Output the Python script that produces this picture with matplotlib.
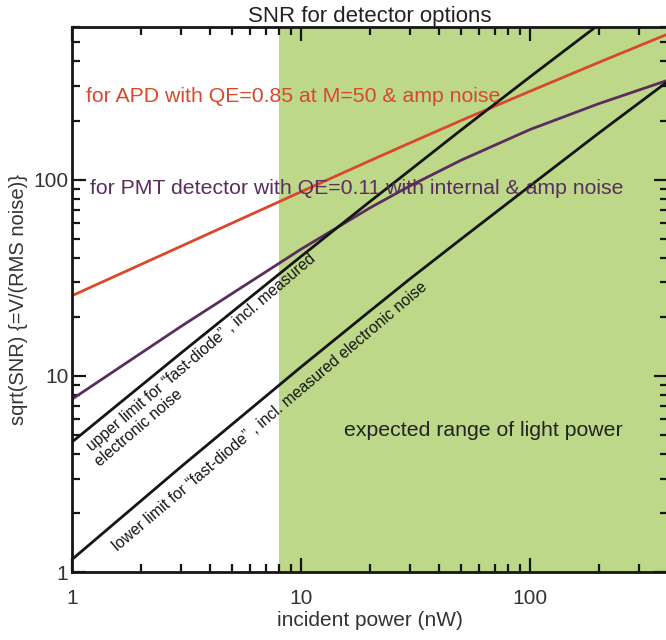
import matplotlib
matplotlib.use("Agg")
import matplotlib.pyplot as plt
from matplotlib.ticker import LogLocator, NullFormatter, FixedLocator, FixedFormatter

plt.rcParams['font.family'] = ['Liberation Sans', 'DejaVu Sans']

# incident power (nW)
power = [1, 3, 10, 20, 30, 50, 100, 200, 400]
# sqrt(SNR)
snr_apd = [25.6, 45.8, 86.7, 124.8, 154, 200, 282, 396, 552]
snr_pmt = [7.6, 17.9, 44.2, 71.8, 93.1, 125.6, 180, 244, 321]
snr_upper = [4.6, 13.1, 40.6, 77.3, 112, 179, 334, 618, 1138]
snr_lower = [1.16, 3.45, 11.1, 21.4, 31.3, 49.8, 92.9, 173, 317]

light_range = [8, 400]
tick_vals = [1, 10, 100]
tick_labels = ['1', '10', '100']

fig = plt.figure(figsize=(6.66, 6.4), dpi=100)
ax = fig.add_axes([0.108, 0.106, 0.895, 0.852])

ax.axvspan(light_range[0], light_range[1], color='#bdd889', zorder=0, lw=0)

ax.plot(power, snr_apd, color='#d8492a', lw=2.0)
ax.plot(power, snr_pmt, color='#5b2c5e', lw=2.0)
ax.plot(power, snr_upper, color='#151515', lw=2.0)
ax.plot(power, snr_lower, color='#151515', lw=2.0)

ax.set_xscale('log')
ax.set_yscale('log')
ax.set_xlim(1, 400)
ax.set_ylim(1, 600)

ax.xaxis.set_major_locator(FixedLocator(tick_vals))
ax.xaxis.set_major_formatter(FixedFormatter(tick_labels))
ax.yaxis.set_major_locator(FixedLocator(tick_vals))
ax.yaxis.set_major_formatter(FixedFormatter(tick_labels))
ax.xaxis.set_minor_locator(LogLocator(base=10, subs=range(2, 10)))
ax.yaxis.set_minor_locator(LogLocator(base=10, subs=range(2, 10)))
ax.xaxis.set_minor_formatter(NullFormatter())
ax.yaxis.set_minor_formatter(NullFormatter())
ax.tick_params(which='both', direction='in', top=True, right=True, width=1.6,
               colors='#151515', labelcolor='#333333', labelsize=15)
ax.tick_params(which='major', length=10)
ax.tick_params(which='minor', length=6)
ax.tick_params(axis='x', pad=12)
ax.tick_params(axis='y', pad=2.5)
for s in ax.spines.values():
    s.set_linewidth(2.0)
    s.set_color('#151515')

ax.set_title('SNR for detector options', fontsize=16, color='#222222', pad=2)
ax.set_xlabel('incident power (nW)', fontsize=15, color='#333333', labelpad=2)
ax.set_ylabel('sqrt(SNR) {=V/(RMS noise)}', fontsize=14.5, color='#333333', labelpad=4)

ax.text(1.15, 265, 'for APD with QE=0.85 at M=50 & amp noise', color='#d8492a',
        fontsize=15.3, va='center', ha='left')
ax.text(1.2, 90, 'for PMT detector with QE=0.11 with internal & amp noise',
        color='#5b2c5e', fontsize=15.3, va='center', ha='left')
ax.text(1.22, 4.1, 'upper limit for \u201cfast-diode\u201d , incl. measured',
        fontsize=11.3, rotation=40.5, rotation_mode='anchor', ha='left', va='baseline',
        color='#151515')
ax.text(1.33, 3.42, 'electronic noise',
        fontsize=11.3, rotation=40.5, rotation_mode='anchor', ha='left', va='baseline',
        color='#151515')
ax.text(1.58, 1.28, 'lower limit for \u201cfast-diode\u201d , incl. measured electronic noise',
        fontsize=11.3, rotation=40.3, rotation_mode='anchor', ha='left', va='baseline',
        color='#151515')
ax.text(15.4, 5.3, 'expected range of light power', fontsize=15.3, color='#222222',
        ha='left', va='center')

fig.savefig('out.png', dpi=100)
